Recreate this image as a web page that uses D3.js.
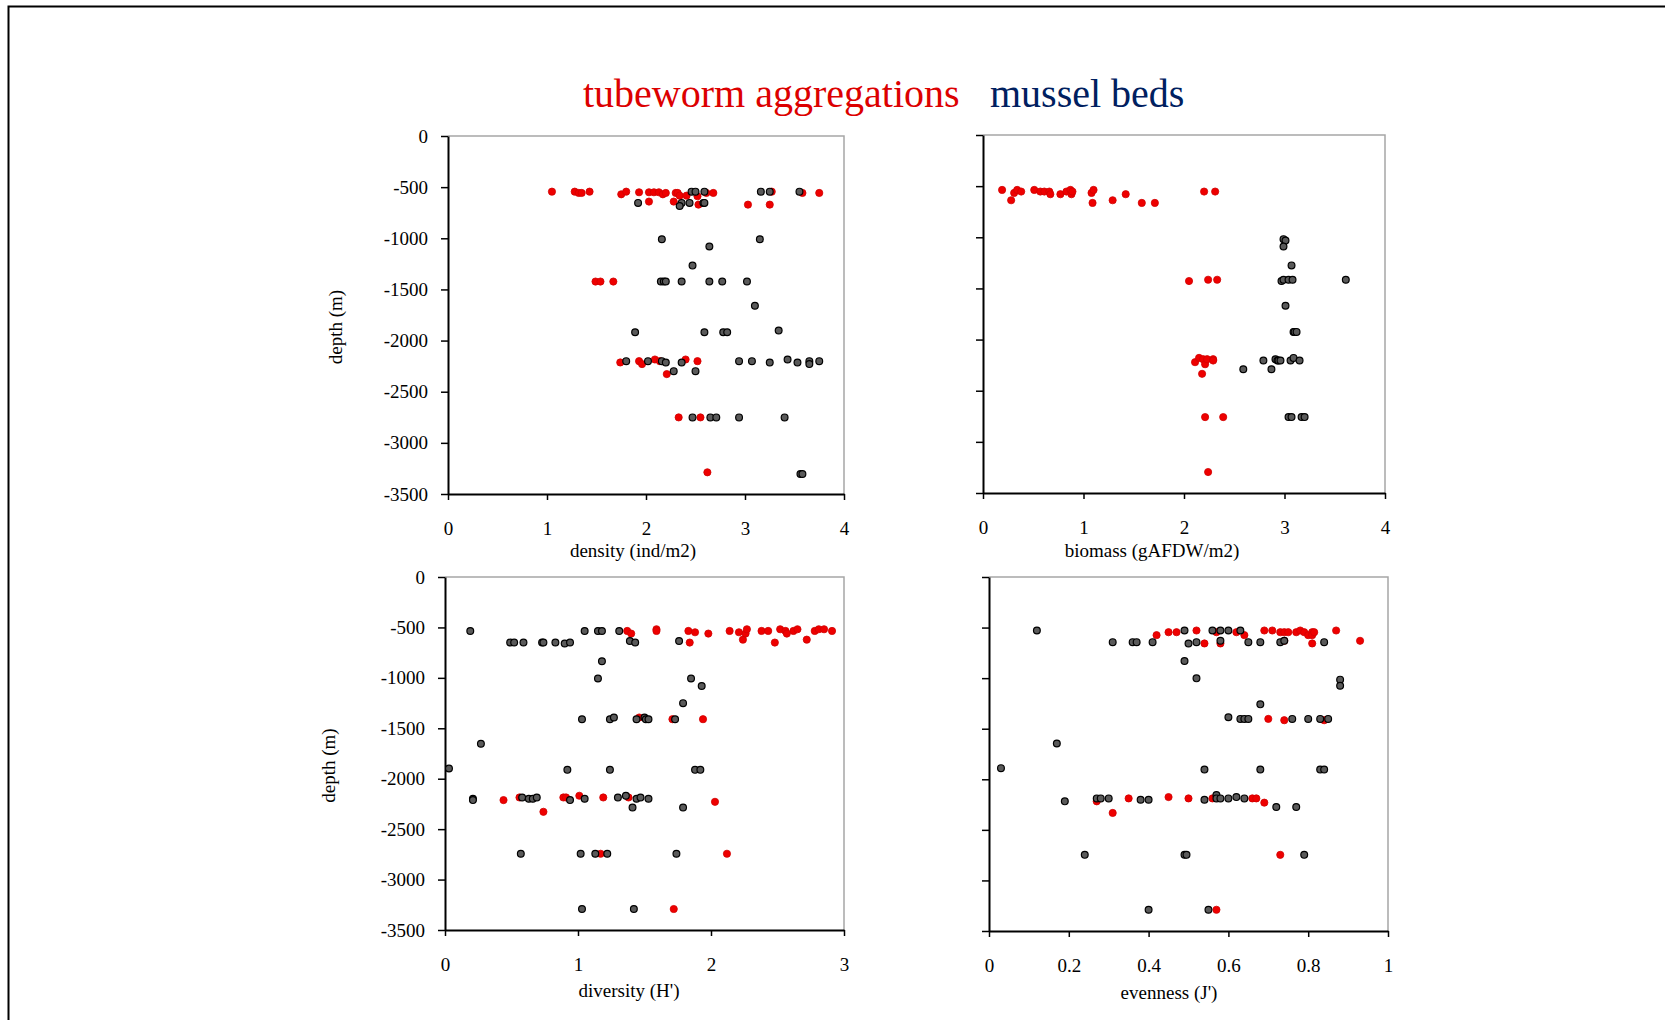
<!DOCTYPE html>
<meta charset="utf-8">
<script src="https://cdn.jsdelivr.net/npm/d3@7/dist/d3.min.js"></script>
<style>
  body { margin: 0; background: #fff; }
  text { font-family: "Liberation Serif", serif; }
  .tick text { font-size: 19px; fill: #000; }
</style>
<div id="chart"></div>
<script>
// depth tick values shared by all four panels
var depthTicks = [0, -500, -1000, -1500, -2000, -2500, -3000, -3500];
var densityTicks = [0, 1, 2, 3, 4];
var biomassTicks = [0, 1, 2, 3, 4];
var diversityTicks = [0, 1, 2, 3];
var evennessTicks = [0, 0.2, 0.4, 0.6, 0.8, 1];

// [value, depth] pairs
var densityTube = [[1.05,-544],[1.28,-544],[1.32,-557],[1.35,-557],[1.43,-544],[1.75,-570],[1.80,-544],[1.93,-550],[2.03,-550],[2.08,-550],[2.13,-550],[2.17,-570],[2.20,-557],[2.30,-557],[2.32,-557],[2.34,-583],[2.41,-583],[2.52,-589],[2.61,-557],[2.68,-557],[3.27,-544],[3.58,-557],[3.75,-557],[2.03,-641],[2.28,-641],[2.53,-671],[3.03,-671],[3.25,-671],
  [1.49,-1423],[1.54,-1423],[1.67,-1423],
  [1.74,-2214],[1.93,-2201],[1.96,-2230],[2.09,-2185],[2.14,-2201],[2.40,-2185],[2.52,-2201],[2.21,-2328],
  [2.33,-2751],[2.55,-2751],[2.62,-3288]];
var densityMussel = [[2.46,-544],[2.50,-544],[2.59,-544],[3.16,-544],[3.25,-544],[3.55,-544],
  [1.92,-654],[2.36,-654],[2.44,-654],[2.58,-654],[2.59,-654],[2.34,-684],
  [2.16,-1009],[3.15,-1009],[2.64,-1081],[2.47,-1267],
  [2.15,-1423],[2.18,-1423],[2.20,-1423],[2.36,-1423],[2.64,-1423],[2.77,-1423],[3.02,-1423],
  [3.10,-1660],
  [1.89,-1918],[2.59,-1918],[2.78,-1918],[2.82,-1918],[3.34,-1901],
  [1.80,-2201],[2.02,-2201],[2.16,-2201],[2.20,-2214],[2.36,-2214],[2.94,-2201],[3.07,-2201],[3.25,-2214],[3.43,-2185],[3.53,-2214],[3.65,-2201],[3.65,-2230],[3.75,-2201],
  [2.28,-2299],[2.50,-2299],
  [2.47,-2751],[2.65,-2751],[2.71,-2751],[2.94,-2751],[3.40,-2751],
  [3.56,-3305],[3.58,-3305]];

var biomassTube = [[0.19,-537],[0.28,-638],[0.31,-566],[0.34,-537],[0.38,-553],[0.51,-537],[0.57,-553],[0.61,-553],[0.66,-553],[0.67,-579],[0.77,-579],[0.83,-553],[0.87,-537],[0.88,-579],[0.89,-553],[1.08,-566],[1.10,-537],[1.09,-664],[1.29,-638],[1.42,-579],[1.58,-664],[1.71,-664],[2.20,-553],[2.31,-553],
  [2.05,-1428],[2.24,-1415],[2.33,-1415],
  [2.11,-2221],[2.15,-2179],[2.19,-2192],[2.21,-2241],[2.23,-2192],[2.29,-2192],[2.29,-2205],[2.18,-2335],
  [2.21,-2758],[2.39,-2758],[2.24,-3295]];
var biomassMussel = [[2.99,-1018],[3.01,-1031],[2.99,-1090],[3.07,-1275],
  [2.97,-1428],[2.99,-1415],[3.04,-1415],[3.08,-1415],[3.61,-1415],
  [3.01,-1669],
  [3.09,-1925],[3.10,-1925],[3.12,-1925],
  [2.79,-2205],[2.91,-2192],[2.93,-2205],[2.94,-2205],[2.96,-2205],[3.06,-2205],[3.09,-2179],[3.15,-2205],
  [2.59,-2290],[2.87,-2290],
  [3.04,-2758],[3.07,-2758],[3.17,-2758],[3.20,-2758]];

var diversityTube = [[1.37,-535],[1.40,-561],[1.59,-518],[1.59,-535],[1.83,-535],[1.88,-548],[1.84,-650],[1.98,-561],[2.14,-535],[2.21,-548],[2.24,-621],[2.26,-561],[2.27,-518],[2.38,-535],[2.43,-535],[2.48,-650],[2.52,-518],[2.56,-535],[2.57,-561],[2.62,-535],[2.65,-518],[2.72,-621],[2.78,-535],[2.81,-518],[2.85,-518],[2.91,-535],
  [1.46,-1393],[1.71,-1410],[1.94,-1410],
  [0.44,-2212],[0.56,-2186],[0.89,-2186],[0.91,-2186],[1.01,-2169],[1.19,-2186],[1.38,-2186],[2.03,-2229],[0.74,-2328],
  [1.17,-2744],[2.12,-2744],[1.72,-3292]];
var diversityMussel = [[0.19,-535],
  [0.49,-650],[0.52,-650],[0.59,-650],[0.73,-650],[0.74,-650],[0.83,-650],[0.90,-660],[0.94,-650],
  [1.05,-535],[1.15,-535],[1.18,-535],[1.31,-535],
  [1.39,-634],[1.43,-650],[1.76,-634],
  [1.18,-835],[1.15,-1007],[1.85,-1007],[1.93,-1080],[1.79,-1251],
  [1.03,-1410],[1.24,-1410],[1.27,-1393],[1.44,-1410],[1.50,-1393],[1.51,-1410],[1.53,-1410],[1.73,-1410],
  [0.27,-1654],[0.03,-1899],
  [0.92,-1912],[1.24,-1912],[1.88,-1912],[1.92,-1912],
  [0.21,-2199],[0.21,-2212],[0.58,-2186],[0.63,-2199],[0.66,-2199],[0.69,-2186],[0.94,-2212],[1.05,-2199],[1.30,-2186],[1.36,-2169],[1.44,-2199],[1.47,-2186],[1.53,-2199],
  [1.41,-2285],[1.79,-2285],
  [0.57,-2744],[1.02,-2744],[1.13,-2744],[1.22,-2744],[1.74,-2744],
  [1.03,-3292],[1.42,-3292]];

var evennessTube = [[0.42,-575],[0.45,-546],[0.47,-546],[0.52,-529],[0.54,-657],[0.57,-546],[0.58,-657],[0.62,-546],[0.64,-575],[0.69,-529],[0.71,-529],[0.73,-546],[0.74,-546],[0.74,-631],[0.75,-546],[0.77,-546],[0.78,-529],[0.79,-546],[0.80,-575],[0.81,-546],[0.81,-575],[0.815,-546],[0.81,-657],[0.87,-529],[0.93,-631],
  [0.70,-1403],[0.74,-1416],[0.84,-1416],
  [0.27,-2218],[0.35,-2189],[0.45,-2176],[0.50,-2189],[0.56,-2189],[0.66,-2189],[0.67,-2189],[0.69,-2231],[0.31,-2333],
  [0.73,-2747],[0.57,-3290]];
var evennessMussel = [[0.12,-529],
  [0.31,-644],[0.36,-644],[0.37,-644],[0.41,-644],[0.49,-529],[0.50,-657],[0.52,-644],[0.56,-529],[0.58,-529],[0.58,-631],[0.60,-529],[0.63,-529],[0.65,-644],[0.68,-644],[0.73,-644],[0.74,-631],[0.84,-644],
  [0.49,-831],[0.52,-1002],[0.88,-1015],[0.88,-1075],[0.68,-1259],
  [0.60,-1387],[0.63,-1403],[0.64,-1403],[0.65,-1403],[0.76,-1403],[0.80,-1403],[0.83,-1403],[0.85,-1403],
  [0.17,-1646],[0.03,-1890],
  [0.54,-1903],[0.68,-1903],[0.83,-1903],[0.84,-1903],
  [0.19,-2218],[0.27,-2189],[0.28,-2189],[0.30,-2189],[0.38,-2202],[0.40,-2202],[0.54,-2202],[0.57,-2156],[0.57,-2189],[0.58,-2189],[0.60,-2189],[0.62,-2176],[0.64,-2189],
  [0.72,-2274],[0.77,-2274],
  [0.24,-2747],[0.49,-2747],[0.495,-2747],[0.79,-2747],
  [0.40,-3290],[0.55,-3290]];

var svg = d3.select("#chart").append("svg")
  .attr("width", 1665)
  .attr("height", 1020);

// outer frame (top + left only are visible)
svg.append("path")
  .attr("d", "M8.5,1020V6.5H1665")
  .attr("fill", "none")
  .attr("stroke", "#000")
  .attr("stroke-width", 2);

// title
svg.append("text").attr("x", 583).attr("y", 107)
  .style("font-size", "40px").attr("fill", "#dc0000")
  .text("tubeworm aggregations");
svg.append("text").attr("x", 990).attr("y", 107)
  .style("font-size", "40px").attr("fill", "#002060")
  .text("mussel beds");

var panels = [
  {x0: 448, x1: 844, y0: 136, y1: 494, ticks: densityTicks, dom: [0, 4], fmt: d3.format("d"),
   tube: densityTube, mussel: densityMussel, yLabels: true, title: "density (ind/m2)", tx: 633, ty: 63, depthX: 335},
  {x0: 983, x1: 1385, y0: 135, y1: 493, ticks: biomassTicks, dom: [0, 4], fmt: d3.format("d"),
   tube: biomassTube, mussel: biomassMussel, yLabels: false, title: "biomass (gAFDW/m2)", tx: 1152, ty: 64},
  {x0: 445, x1: 844, y0: 577, y1: 930, ticks: diversityTicks, dom: [0, 3], fmt: d3.format("d"),
   tube: diversityTube, mussel: diversityMussel, yLabels: true, title: "diversity (H')", tx: 629, ty: 67, depthX: 328},
  {x0: 989, x1: 1388, y0: 577, y1: 931, ticks: evennessTicks, dom: [0, 1], fmt: function(d) { return String(d); },
   tube: evennessTube, mussel: evennessMussel, yLabels: false, title: "evenness (J')", tx: 1169, ty: 68}
];

panels.forEach(function(p) {
  var x = d3.scaleLinear().domain(p.dom).range([p.x0, p.x1]);
  var y = d3.scaleLinear().domain([0, -3500]).range([p.y0, p.y1]);

  // grey top/right border
  svg.append("path")
    .attr("d", "M" + p.x0 + "," + p.y0 + "H" + p.x1 + "V" + p.y1)
    .attr("fill", "none")
    .attr("stroke", "#a6a6a6")
    .attr("stroke-width", 1.5);

  var gx = svg.append("g")
    .attr("transform", "translate(0," + p.y1 + ")")
    .call(d3.axisBottom(x).tickValues(p.ticks).tickFormat(p.fmt)
      .tickSize(6).tickSizeOuter(0).tickPadding(22));
  var gy = svg.append("g")
    .attr("transform", "translate(" + p.x0 + ",0)")
    .call(d3.axisLeft(y).tickValues(depthTicks)
      .tickFormat(p.yLabels ? d3.format("d") : "")
      .tickSize(7).tickSizeOuter(0).tickPadding(13));

  [gx, gy].forEach(function(g) {
    g.select(".domain").attr("stroke", "#000").attr("stroke-width", 2);
    g.selectAll(".tick line").attr("stroke", "#000").attr("stroke-width", 1.5);
  });
  gy.selectAll(".tick text").text(function(d) { return p.yLabels ? String(d) : ""; });

  svg.append("text")
    .attr("x", p.tx).attr("y", p.y1 + p.ty)
    .attr("text-anchor", "middle")
    .style("font-size", "19px")
    .text(p.title);

  if (p.depthX) {
    svg.append("text")
      .attr("transform", "translate(" + p.depthX + "," + ((p.y0 + p.y1) / 2 + 12) + ")rotate(-90)")
      .attr("text-anchor", "middle")
      .attr("dy", "0.35em")
      .style("font-size", "19px")
      .text("depth (m)");
  }

  // tubeworms first, mussels drawn on top
  svg.append("g").selectAll("circle")
    .data(p.tube).enter().append("circle")
      .attr("cx", function(d) { return x(d[0]); })
      .attr("cy", function(d) { return y(d[1]); })
      .attr("r", 3.6)
      .attr("fill", "#ee0000")
      .attr("stroke", "#d00000")
      .attr("stroke-width", 0.8);

  svg.append("g").selectAll("circle")
    .data(p.mussel).enter().append("circle")
      .attr("cx", function(d) { return x(d[0]); })
      .attr("cy", function(d) { return y(d[1]); })
      .attr("r", 3.4)
      .attr("fill", "#5a5a5a")
      .attr("stroke", "#000")
      .attr("stroke-width", 1.2);
});
</script>
